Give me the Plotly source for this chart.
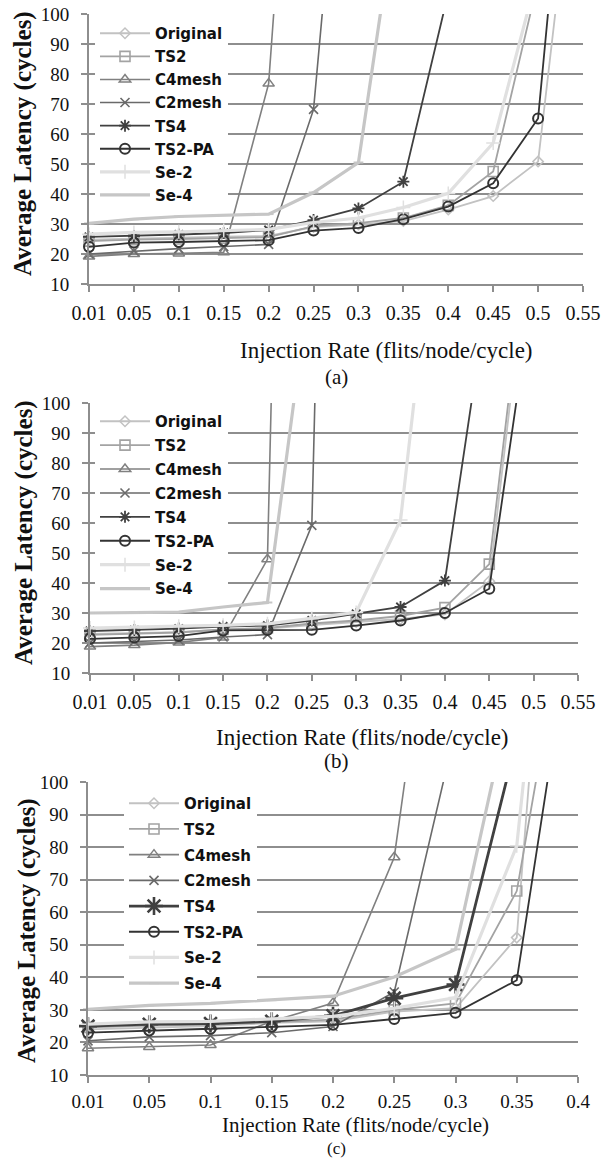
import plotly.graph_objects as go

W, H = 613, 1159

# ---------------- data ----------------
cats_ab = ["0.01", "0.05", "0.1", "0.15", "0.2", "0.25", "0.3", "0.35", "0.4", "0.45", "0.5", "0.55"]
cats_c = ["0.01", "0.05", "0.1", "0.15", "0.2", "0.25", "0.3", "0.35", "0.4"]
y_ticks = [10, 20, 30, 40, 50, 60, 70, 80, 90, 100]
series_names = ["Original", "TS2", "C4mesh", "C2mesh", "TS4", "TS2-PA", "Se-2", "Se-4"]

# panel (a)
a_original = [24.8, 25.2, 25.5, 25.8, 26.0, 29.0, 29.8, 31.0, 34.8, 39.3, 50.8, 180]
a_ts2 = [24.3, 24.8, 25.0, 25.3, 25.6, 29.3, 30.3, 32.0, 36.2, 47.5, 111]
a_c4mesh = [19.2, 20.0, 20.2, 20.6, 76.8, 284]
a_c2mesh = [20.0, 21.0, 21.8, 22.5, 23.2, 68.2, 233]
a_ts4 = [25.7, 26.0, 26.5, 27.0, 28.0, 31.3, 35.2, 44.1, 107]
a_ts2pa = [22.4, 23.8, 24.0, 24.3, 24.6, 27.8, 28.7, 31.6, 35.8, 43.6, 65.2, 224]
a_se2 = [26.6, 27.2, 27.4, 27.8, 28.2, 30.5, 32.0, 35.5, 40.2, 57.0, 114]
a_se4 = [30.2, 31.6, 32.5, 33.0, 33.3, 40.5, 50.5, 152]

# panel (b)
b_original = [23.0, 23.2, 23.6, 24.5, 24.8, 26.0, 27.0, 28.0, 29.5, 40.6, 167]
b_ts2 = [22.7, 23.0, 23.5, 24.5, 25.0, 26.5, 27.5, 29.0, 31.8, 46.3, 172]
b_c4mesh = [18.8, 19.3, 20.2, 21.8, 47.9, 670]
b_c2mesh = [20.0, 20.5, 21.0, 22.0, 22.8, 59.2, 660]
b_ts4 = [24.0, 24.3, 24.8, 25.5, 25.8, 27.5, 29.7, 32.0, 40.8, 140]
b_ts2pa = [21.4, 21.8, 22.3, 24.2, 24.3, 24.4, 25.8, 27.5, 30.0, 38.1, 140]
b_se2 = [25.0, 25.2, 25.6, 25.9, 26.4, 28.2, 30.2, 61.0, 191]
b_se4 = [30.0, 30.2, 30.3, 32.0, 33.5, 146]

# panel (c)
c_original = [24.0, 24.5, 25.0, 26.0, 26.5, 29.5, 30.5, 52.2, 292]
c_ts2 = [24.6, 25.2, 25.5, 26.2, 27.0, 30.0, 32.0, 66.5, 174]
c_c4mesh = [18.2, 18.6, 19.2, 26.5, 32.1, 76.9, 212]
c_c2mesh = [20.5, 21.7, 22.1, 23.0, 24.9, 35.5, 116]
c_ts4 = [25.0, 25.6, 25.8, 26.5, 28.2, 33.6, 37.8, 113]
c_ts2pa = [23.0, 23.7, 24.2, 24.8, 25.4, 27.2, 29.1, 39.1, 161]
c_se2 = [25.6, 26.3, 26.5, 27.2, 28.0, 30.5, 33.8, 80.4, 260]
c_se4 = [30.2, 31.4, 32.0, 33.0, 34.2, 40.1, 48.6, 134]

panels = [
    ("a", cats_ab, [a_original, a_ts2, a_c4mesh, a_c2mesh, a_ts4, a_ts2pa, a_se2, a_se4]),
    ("b", cats_ab, [b_original, b_ts2, b_c4mesh, b_c2mesh, b_ts4, b_ts2pa, b_se2, b_se4]),
    ("c", cats_c, [c_original, c_ts2, c_c4mesh, c_c2mesh, c_ts4, c_ts2pa, c_se2, c_se4]),
]

# ---------------- styles ----------------
styles = {
    "Original": dict(color="#c2c2c2", lw=1.8, sym="diamond-open", ms=8, mlw=1.5),
    "TS2": dict(color="#a3a3a3", lw=1.8, sym="square-open", ms=10, mlw=1.6),
    "C4mesh": dict(color="#808080", lw=1.6, sym="triangle-up-open", ms=10, mlw=1.5),
    "C2mesh": dict(color="#6a6a6a", lw=1.6, sym="x-thin-open", ms=9, mlw=1.6),
    "TS4": dict(color="#404040", lw=1.8, sym="asterisk-open", ms=10, mlw=1.8),
    "TS2-PA": dict(color="#333333", lw=1.8, sym="circle-open", ms=10, mlw=2),
    "Se-2": dict(color="#e0e0e0", lw=3.2, sym="cross-thin-open", ms=10, mlw=1.5),
    "Se-4": dict(color="#c6c6c6", lw=3.2, sym="line-ew-open", ms=7, mlw=2),
}

GRID = "#8e8e8e"
SERIF = "Liberation Serif"

# pixel geometry of each plot area: (x_left, x_right, y_top(100), y_bottom(10))
geom = {
    "a": (89, 583, 14, 284),
    "b": (90, 578, 403, 673),
    "c": (88, 578, 782, 1075),
}
legend_geom = {  # left x, top y, group gap
    "a": (95, 17, 0.6),
    "b": (95, 405, 1.4),
    "c": (124, 787, 3.2),
}
xtick_size = {"a": 20, "b": 20, "c": 19}
xtick_standoff = {"a": 4, "b": 4, "c": 2}

fig = go.Figure()
layout = dict(
    width=W, height=H, margin=dict(l=0, r=0, t=0, b=0),
    paper_bgcolor="white", plot_bgcolor="white", showlegend=True,
)

for i, (key, cats, vals_list) in enumerate(panels):
    n = i + 1
    xa = "x" if n == 1 else f"x{n}"
    ya = "y" if n == 1 else f"y{n}"
    lg = "legend" if n == 1 else f"legend{n}"
    for name, vals in zip(series_names, vals_list):
        st = styles[name]
        lw, ms, mlw = st["lw"], st["ms"], st["mlw"]
        if key == "c" and name == "TS4":
            lw, ms, mlw = 2.8, 15, 2.6
        fig.add_trace(go.Scatter(
            x=cats[:len(vals)], y=vals, name=name, mode="lines+markers",
            xaxis=xa, yaxis=ya, legend=lg, legendgroup=f"{key}_{name}",
            cliponaxis=False,
            line=dict(color=st["color"], width=lw),
            marker=dict(symbol=st["sym"], size=ms, color=st["color"],
                        line=dict(color=st["color"], width=mlw)),
        ))
    x0, x1, yt, yb = geom[key]
    layout[f"xaxis{'' if n == 1 else n}"] = dict(
        domain=[x0 / W, x1 / W], anchor=ya, type="category",
        categoryorder="array", categoryarray=cats,
        range=[0, len(cats) - 1], showgrid=False, zeroline=False,
        showline=True, linecolor=GRID, linewidth=2,
        ticks="outside", ticklen=6, tickwidth=2, tickcolor=GRID,
        tickfont=dict(family=SERIF, size=xtick_size[key], color="#111"),
        ticklabelstandoff=xtick_standoff[key], automargin=False,
    )
    layout[f"yaxis{'' if n == 1 else n}"] = dict(
        domain=[1 - yb / H, 1 - yt / H], anchor=xa,
        range=[10, 100], tickvals=y_ticks, showgrid=True,
        gridcolor=GRID, gridwidth=2, zeroline=False,
        showline=True, linecolor=GRID, linewidth=2,
        ticks="outside", ticklen=6, tickwidth=2, tickcolor=GRID,
        tickfont=dict(family=SERIF, size=19, color="#111"),
        ticklabelstandoff=8, automargin=False,
    )
    lx, ly, gap = legend_geom[key]
    layout[lg] = dict(
        x=lx / W, y=1 - ly / H, xanchor="left", yanchor="top",
        bgcolor="white", borderwidth=0, traceorder="grouped",
        tracegroupgap=gap, itemwidth=50,
        font=dict(family="DejaVu Sans", size=15, color="#111", weight="bold"),
        itemclick=False, itemdoubleclick=False,
    )

fig.update_layout(**layout)

# axis titles and captions
ann = []
ytitle_pos = {"a": (23, 144), "b": (24, 533), "c": (27, 931)}
xtitle_pos = {"a": (386, 350), "b": (362, 737), "c": (355, 1125)}
xtitle_size = {"a": 23, "b": 23, "c": 21}
cap_pos = {"a": (336, 377), "b": (336, 761), "c": (336, 1148)}
cap_size = {"a": 21, "b": 21, "c": 17}
for key in ["a", "b", "c"]:
    px, py = ytitle_pos[key]
    ann.append(dict(x=px / W, y=1 - py / H, xref="paper", yref="paper",
                    text="<b>Average Latency (cycles)</b>", textangle=-90,
                    showarrow=False, xanchor="center", yanchor="middle",
                    font=dict(family=SERIF, size=25, color="#111")))
    px, py = xtitle_pos[key]
    ann.append(dict(x=px / W, y=1 - py / H, xref="paper", yref="paper",
                    text="Injection Rate (flits/node/cycle)", showarrow=False,
                    xanchor="center", yanchor="middle", borderpad=0,
                    font=dict(family=SERIF, size=xtitle_size[key], color="#111")))
    px, py = cap_pos[key]
    ann.append(dict(x=px / W, y=1 - py / H, xref="paper", yref="paper",
                    text=f"({key})", showarrow=False, borderpad=0,
                    xanchor="center", yanchor="middle",
                    font=dict(family=SERIF, size=cap_size[key], color="#111")))
fig.update_layout(annotations=ann)

fig.write_html("out.html")
